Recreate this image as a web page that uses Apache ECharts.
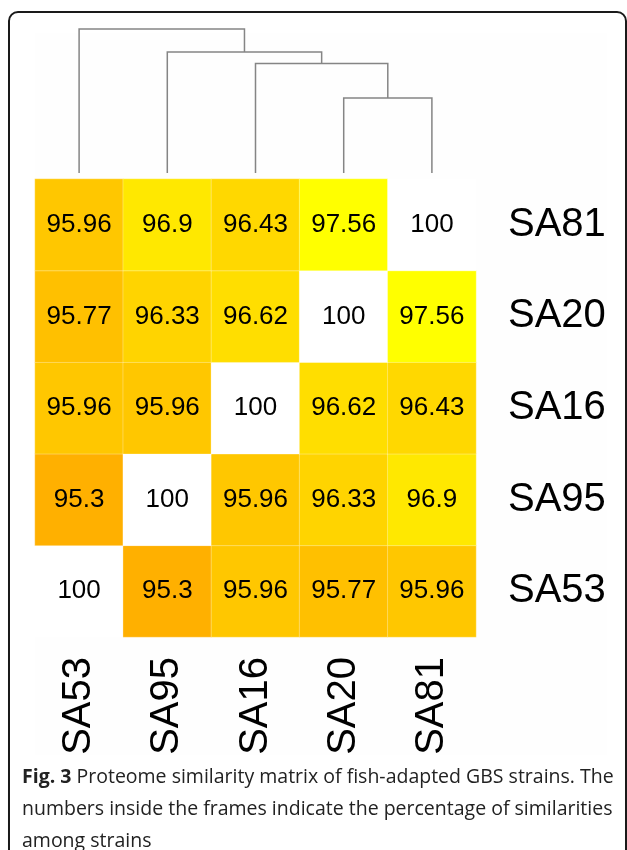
<!DOCTYPE html>
<html>
<head>
<meta charset="utf-8">
<script src="https://cdn.jsdelivr.net/npm/echarts@6.0.0/dist/echarts.min.js"></script>
<style>
  html, body { margin: 0; padding: 0; background: #fff; }
  #chart { width: 627px; height: 850px; }
</style>
</head>
<body>
<div id="chart"></div>
<script>
// strains, same order on both axes (y from bottom to top)
const strains = ['SA53', 'SA95', 'SA16', 'SA20', 'SA81']

// similarity (%) rows follow strains order
const simSA53 = [100, 95.3, 95.96, 95.77, 95.96]
const simSA95 = [95.3, 100, 95.96, 96.33, 96.9]
const simSA16 = [95.96, 95.96, 100, 96.62, 96.43]
const simSA20 = [95.77, 96.33, 96.62, 100, 97.56]
const simSA81 = [95.96, 96.9, 96.43, 97.56, 100]
const simRows = [simSA53, simSA95, simSA16, simSA20, simSA81]

// dendrogram: nodes 0-4 are leaves, 5.. are merges in this order
const mergeLeft = [3, 2, 1, 0]
const mergeRight = [4, 5, 6, 7]
const mergeHeight = [0.52, 0.76, 0.84, 1.0]

const captionBold = 'Fig. 3'
const captionText = ' Proteome similarity matrix of fish-adapted GBS strains. The\nnumbers inside the frames indicate the percentage of similarities\namong strains'

// colour scale: orange -> yellow over the off-diagonal range, diagonal white
const colorLow = 95.3
const colorHigh = 97.56
const cellColor = v => {
  if (v >= 100) return '#ffffff'
  const t = Math.min(1, Math.max(0, (v - colorLow) / (colorHigh - colorLow)))
  return echarts.color.lerp(t, ['#ffb000', '#ffff00'])
}

const heatData = []
simRows.forEach((row, y) => {
  row.forEach((v, x) => heatData.push({ value: [x, y, v], itemStyle: { color: cellColor(v) } }))
})

// node positions / heights for the tree
const nodeX = strains.map((s, i) => i)
const nodeH = strains.map(() => 0)
const treeData = []
mergeLeft.forEach((a, i) => {
  const b = mergeRight[i]
  const h = mergeHeight[i]
  treeData.push([nodeX[a], nodeH[a], nodeX[b], nodeH[b], h])
  nodeX.push((nodeX[a] + nodeX[b]) / 2)
  nodeH.push(h)
})

const chart = echarts.init(document.getElementById('chart'))

const option = {
  animation: false,
  backgroundColor: '#ffffff',
  textStyle: { fontFamily: '"Liberation Sans", Arial, sans-serif' },
  grid: [
    { left: 35, top: 179, width: 441, height: 458 },
    { left: 35, top: 29, width: 441, height: 144 }
  ],
  xAxis: [
    {
      type: 'category',
      gridIndex: 0,
      data: strains,
      axisLine: { show: false },
      axisTick: { show: false },
      splitLine: { show: false },
      axisLabel: {
        rotate: 90,
        margin: 20,
        fontSize: 40,
        color: '#000'
      }
    },
    { type: 'value', gridIndex: 1, min: -0.5, max: 4.5, show: false }
  ],
  yAxis: [
    {
      type: 'category',
      gridIndex: 0,
      position: 'right',
      data: strains,
      axisLine: { show: false },
      axisTick: { show: false },
      splitLine: { show: false },
      axisLabel: {
        margin: 32,
        fontSize: 40,
        color: '#000'
      }
    },
    { type: 'value', gridIndex: 1, min: 0, max: 1, show: false }
  ],
  graphic: [
    {
      type: 'rect',
      z: -10,
      shape: { x: 35, y: 33, width: 572, height: 722 },
      style: { fill: '#fefefe' }
    },
    {
      type: 'rect',
      z: -5,
      shape: { x: 9, y: 12, width: 617, height: 870, r: 9 },
      style: { fill: null, stroke: '#1a1a1a', lineWidth: 2 }
    },
    {
      type: 'text',
      left: 22,
      top: 761,
      style: {
        text: '{b|' + captionBold + '}' + captionText,
        fontFamily: '"Open Sans", sans-serif',
        fontSize: 19.5,
        lineHeight: 32,
        fill: '#222',
        rich: {
          b: { fontFamily: '"Open Sans", sans-serif', fontSize: 19.5, fontWeight: 'bold', fill: '#222', lineHeight: 32 }
        }
      }
    }
  ],
  series: [
    {
      type: 'heatmap',
      xAxisIndex: 0,
      yAxisIndex: 0,
      data: heatData,
      itemStyle: { borderColor: 'rgba(255,255,255,0.3)', borderWidth: 1 },
      label: {
        show: true,
        fontSize: 26,
        color: '#000',
        formatter: p => String(p.value[2])
      },
      emphasis: { disabled: true }
    },
    {
      type: 'custom',
      xAxisIndex: 1,
      yAxisIndex: 1,
      data: treeData,
      renderItem: (params, api) => {
        const p1 = api.coord([api.value(0), api.value(1)])
        const p2 = api.coord([api.value(0), api.value(4)])
        const p3 = api.coord([api.value(2), api.value(4)])
        const p4 = api.coord([api.value(2), api.value(3)])
        return {
          type: 'polyline',
          shape: { points: [p1, p2, p3, p4] },
          style: { fill: null, stroke: '#858585', lineWidth: 1.5 }
        }
      }
    }
  ]
}

chart.setOption(option)
</script>
</body>
</html>
